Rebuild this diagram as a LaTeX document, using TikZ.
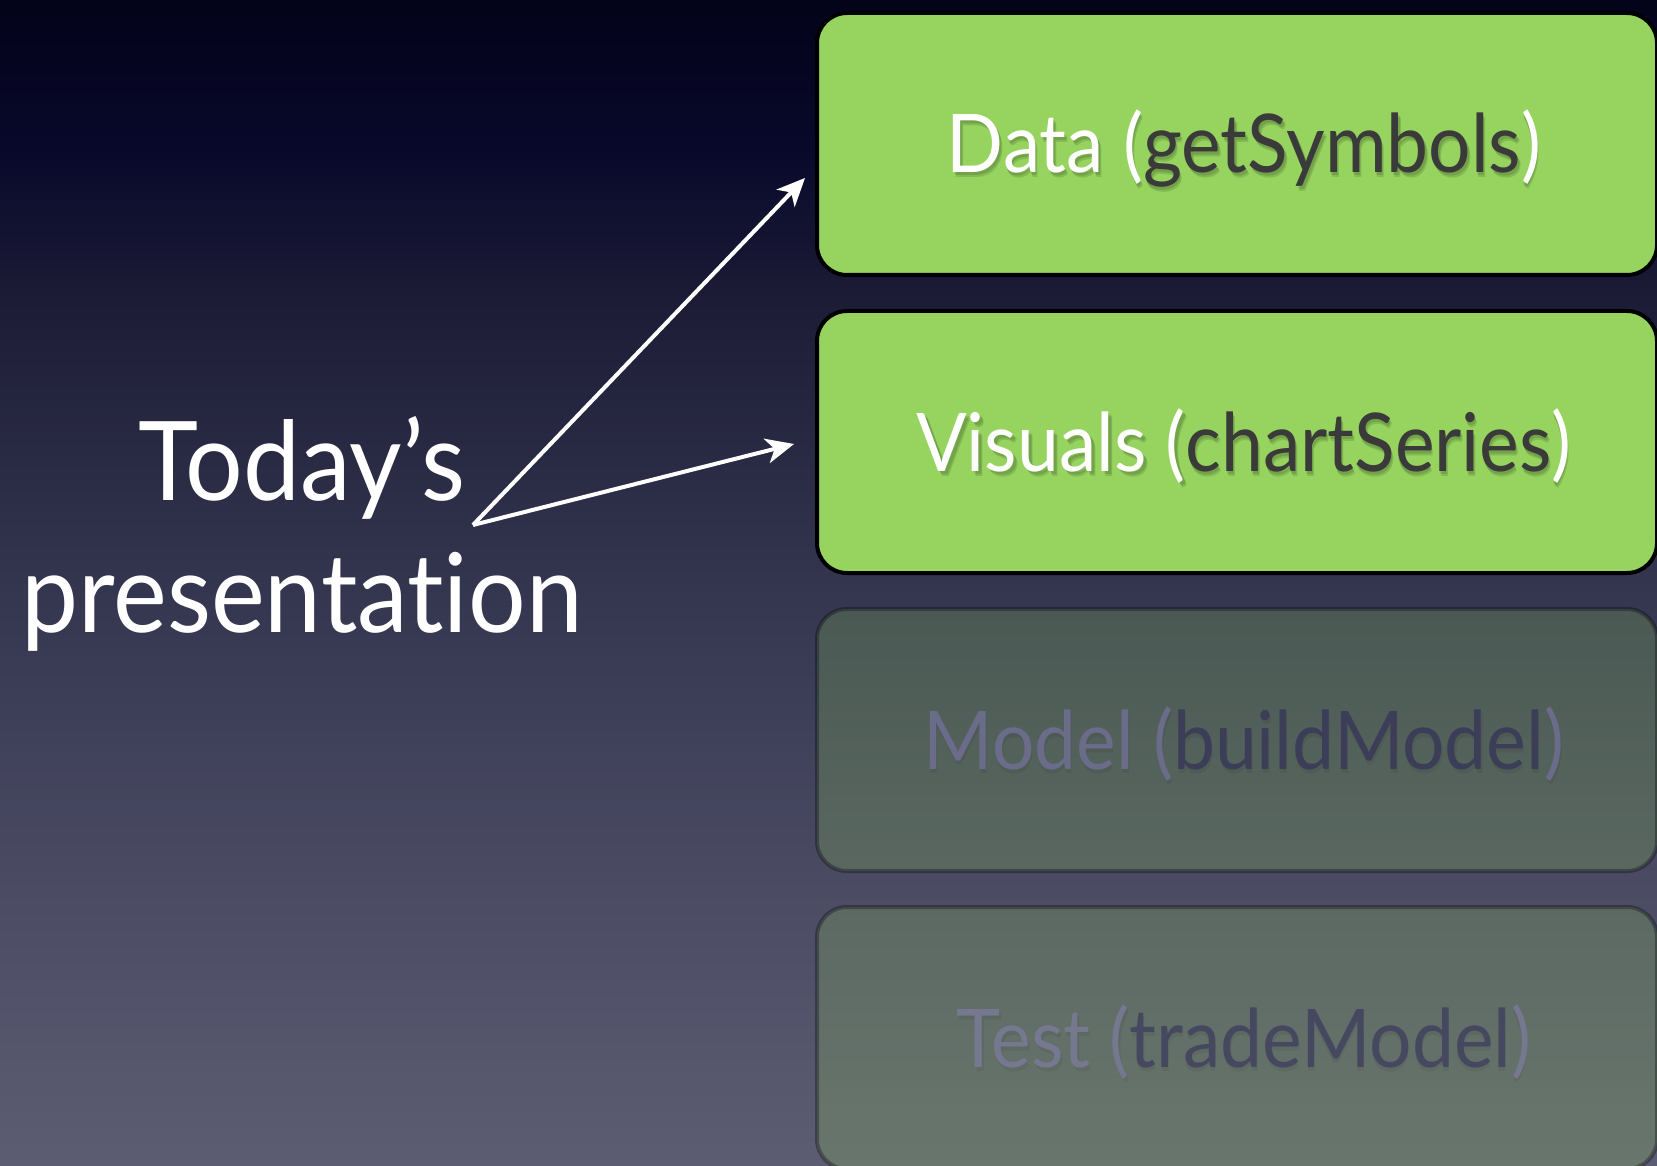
\documentclass[tikz,border=0pt]{standalone}
\usepackage{fontspec}
\setmainfont{Lato}[Ligatures=NoCommon, FakeStretch=0.925]
\usetikzlibrary{arrows.meta}

% slide background, dark navy at the top fading to slate at the bottom
\definecolor{bgTop}{HTML}{03031A}
\definecolor{bgHigh}{HTML}{08082B}
\definecolor{bgUpper}{HTML}{1C1C36}
\definecolor{bgMid}{HTML}{353650}
\definecolor{bgLow}{HTML}{4B4B64}
\definecolor{bgBottom}{HTML}{5C5C72}
\pgfdeclareverticalshading{slidebg}{100bp}{%
  color(0bp)=(bgBottom); color(25bp)=(bgBottom); color(36.8bp)=(bgLow);
  color(49.3bp)=(bgMid); color(62.1bp)=(bgUpper); color(68.6bp)=(bgHigh);
  color(75bp)=(bgTop); color(100bp)=(bgTop)}

\definecolor{boxgreen}{HTML}{97D45F}
\definecolor{fnink}{HTML}{3A3A3A}
\definecolor{dimlightA}{HTML}{6A6C8A}
\definecolor{dimdarkA}{HTML}{3C3E58}
\definecolor{dimlightB}{HTML}{76788F}
\definecolor{dimdarkB}{HTML}{46485F}

\newcommand\slidelabel[4]{\textcolor{#1}{#3 (}\textcolor{#2}{#4}\textcolor{#1}{)}}

\tikzset{
  slidebox/.style={rounded corners=30pt, minimum width=840pt, minimum height=262pt,
    inner sep=0pt, line width=4pt},
  livebox/.style={slidebox, fill=boxgreen, draw=black},
  dimbox/.style={slidebox, fill=boxgreen, fill opacity=0.22, draw=black, draw opacity=0.3},
  boxtext/.style={font=\fontsize{81}{90}\selectfont, inner sep=0pt, anchor=base},
  % soft drop shadow behind a stage label
  softshadow/.style={boxtext, text=black, text opacity=#1},
  softshadow/.default=0.12,
  headline/.style={font=\fontsize{110}{132}\selectfont, inner sep=0pt, anchor=base, text=white},
  pointer/.style={draw=white, line width=4pt, -{Stealth[length=28pt,width=25pt,inset=8pt]}},
}

\begin{document}
\begin{tikzpicture}[x=1pt, y=-1pt]
  \useasboundingbox (0,0) rectangle (1657,1166);
  \shade[shading=slidebg] (0,0) rectangle (1657,1166);

  % the four stages
  \node[livebox] (data)   at (1237,144)  {};
  \node[livebox] (visual) at (1237,442)  {};
  \node[dimbox]  (model)  at (1237,740)  {};
  \node[dimbox]  (test)   at (1237,1038) {};

  % stage label shadows
  \node[softshadow] (dataShadowA)   at (1245,176) {Data (getSymbols)};
  \node[softshadow] (dataShadowB)   at (1246,178) {Data (getSymbols)};
  \node[softshadow] (visualShadowA) at (1245,474) {Visuals (chartSeries)};
  \node[softshadow] (visualShadowB) at (1246,476) {Visuals (chartSeries)};
  \node[softshadow=0.06] (modelShadow) at (1245,773) {Model (buildModel)};
  \node[softshadow=0.06] (testShadow)  at (1245,1071) {Test (tradeModel)};

  % stage labels
  \node[boxtext] (dataText)   at (1244,173)  {\slidelabel{white}{fnink}{Data}{getSymbols}};
  \node[boxtext] (visualText) at (1244,471)  {\slidelabel{white}{fnink}{Visuals}{chartSeries}};
  \node[boxtext] (modelText)  at (1244,769)  {\slidelabel{dimlightA}{dimdarkA}{Model}{buildModel}};
  \node[boxtext] (testText)   at (1244,1067) {\slidelabel{dimlightB}{dimdarkB}{Test}{tradeModel}};

  % title on the left
  \node[headline] (today)        at (302,500) {Today’s};
  \node[headline] (presentation) at (302,632) {presentation};

  % arrows from the title to the first two stages
  \coordinate (fork) at (473,525);
  \draw[pointer] (fork) -- ([xshift=-10pt, yshift=-34pt]data.west);
  \draw[pointer] (fork) -- ([xshift=-21pt, yshift=-2pt]visual.west);
\end{tikzpicture}
\end{document}
